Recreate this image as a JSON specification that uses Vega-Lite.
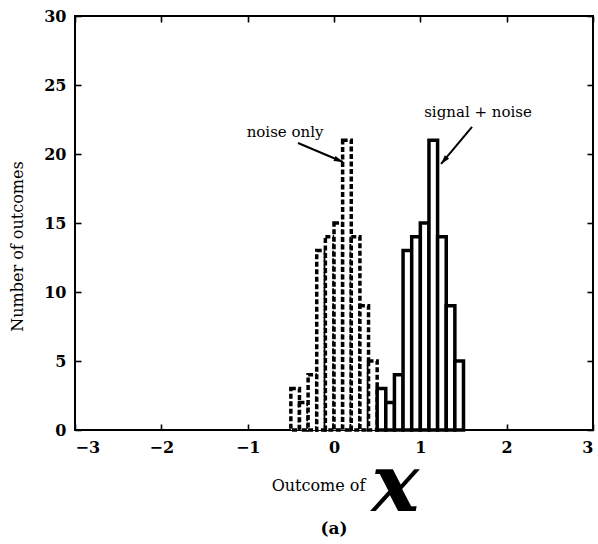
{
  "$schema": "https://vega.github.io/schema/vega-lite/v6.json",
  "width": 518,
  "height": 414,
  "autosize": "none",
  "padding": {"left": 75, "top": 16, "right": 5, "bottom": 114},
  "background": "white",
  "title": {"text": "(a)", "orient": "bottom", "font": "DejaVu Serif", "fontSize": 17, "fontWeight": "bold", "color": "black", "offset": -6, "anchor": "middle"},
  "config": {
    "view": {"stroke": "black", "strokeWidth": 2},
    "axis": {
      "domain": false, "grid": false, "offset": -6,
      "tickColor": "black", "tickSize": 6, "tickWidth": 1.6,
      "labelFont": "DejaVu Serif", "labelFontWeight": "bold", "labelFontSize": 16, "labelColor": "black",
      "titleFont": "DejaVu Serif", "titleFontWeight": "normal", "titleFontSize": 16, "titleColor": "black"
    }
  },
  "datasets": {
    "bars": [
      {"series": "noise only", "x0": -0.5, "x1": -0.4, "count": 3},
      {"series": "noise only", "x0": -0.4, "x1": -0.3, "count": 2},
      {"series": "noise only", "x0": -0.3, "x1": -0.2, "count": 4},
      {"series": "noise only", "x0": -0.2, "x1": -0.1, "count": 13},
      {"series": "noise only", "x0": -0.1, "x1": 0.0, "count": 14},
      {"series": "noise only", "x0": 0.0, "x1": 0.1, "count": 15},
      {"series": "noise only", "x0": 0.1, "x1": 0.2, "count": 21},
      {"series": "noise only", "x0": 0.2, "x1": 0.3, "count": 14},
      {"series": "noise only", "x0": 0.3, "x1": 0.4, "count": 9},
      {"series": "noise only", "x0": 0.4, "x1": 0.5, "count": 5},
      {"series": "signal + noise", "x0": 0.5, "x1": 0.6, "count": 3},
      {"series": "signal + noise", "x0": 0.6, "x1": 0.7, "count": 2},
      {"series": "signal + noise", "x0": 0.7, "x1": 0.8, "count": 4},
      {"series": "signal + noise", "x0": 0.8, "x1": 0.9, "count": 13},
      {"series": "signal + noise", "x0": 0.9, "x1": 1.0, "count": 14},
      {"series": "signal + noise", "x0": 1.0, "x1": 1.1, "count": 15},
      {"series": "signal + noise", "x0": 1.1, "x1": 1.2, "count": 21},
      {"series": "signal + noise", "x0": 1.2, "x1": 1.3, "count": 14},
      {"series": "signal + noise", "x0": 1.3, "x1": 1.4, "count": 9},
      {"series": "signal + noise", "x0": 1.4, "x1": 1.5, "count": 5}
    ],
    "labels": [
      {"series": "noise only", "x": -0.567, "y": 21.2},
      {"series": "signal + noise", "x": 1.668, "y": 22.7}
    ],
    "arrows": [
      {"series": "noise only", "xs": -0.417, "ys": 20.8, "xe": 0.104, "ye": 19.42},
      {"series": "signal + noise", "xs": 1.599, "ys": 21.96, "xe": 1.24, "ye": 19.28}
    ],
    "symbol": [
      {"text": "x", "x": 0.71, "y": -5.85}
    ]
  },
  "resolve": {"axis": {"x": "independent", "y": "independent"}},
  "layer": [
    {
      "data": {"name": "bars"},
      "mark": {"type": "bar", "fill": "white", "stroke": "black", "strokeWidth": 3.5},
      "encoding": {
        "x": {"field": "x0", "type": "quantitative",
              "scale": {"domain": [-3, 3], "nice": false, "zero": false},
              "axis": {"orient": "bottom", "values": [-3, -2, -1, 0, 1, 2, 3], "labelPadding": 9,
                       "title": "Outcome of", "titleX": 243, "titleY": 61, "titleBaseline": "middle", "titleAlign": "center"}},
        "x2": {"field": "x1"},
        "y": {"field": "count", "type": "quantitative",
              "scale": {"domain": [0, 30], "nice": false},
              "axis": {"orient": "left", "values": [0, 5, 10, 15, 20, 25, 30], "labelPadding": 9,
                       "title": "Number of outcomes", "titleX": -64, "titleY": 230, "titleAngle": -90,
                       "titleBaseline": "middle", "titleAlign": "center"}},
        "y2": {"datum": 0},
        "strokeDash": {"field": "series", "type": "nominal",
                       "scale": {"domain": ["noise only", "signal + noise"], "range": [[5, 2.5], [1, 0]]},
                       "legend": null}
      }
    },
    {
      "data": {"name": "labels"},
      "mark": {"type": "text", "font": "DejaVu Serif", "fontSize": 15, "color": "black", "baseline": "alphabetic", "align": "center"},
      "encoding": {
        "x": {"field": "x", "type": "quantitative", "scale": {"domain": [-3, 3], "nice": false, "zero": false},
              "axis": {"orient": "top", "values": [-3, -2, -1, 0, 1, 2, 3], "labels": false, "title": null}},
        "y": {"field": "y", "type": "quantitative", "scale": {"domain": [0, 30], "nice": false},
              "axis": {"orient": "right", "values": [0, 5, 10, 15, 20, 25, 30], "labels": false, "title": null}},
        "text": {"field": "series"}
      }
    },
    {
      "data": {"name": "arrows"},
      "mark": {"type": "rule", "color": "black", "strokeWidth": 2},
      "encoding": {
        "x": {"field": "xs", "type": "quantitative", "scale": {"domain": [-3, 3], "nice": false, "zero": false}, "axis": null},
        "y": {"field": "ys", "type": "quantitative", "scale": {"domain": [0, 30], "nice": false}, "axis": null},
        "x2": {"field": "xe"},
        "y2": {"field": "ye"}
      }
    },
    {
      "data": {"name": "arrows"},
      "transform": [{"filter": "datum.series == 'noise only'"}],
      "mark": {"type": "point", "shape": "M0,0L-0.45,1.5L0.45,1.5Z", "filled": true, "color": "black", "size": 150, "angle": 112.9, "opacity": 1},
      "encoding": {
        "x": {"field": "xe", "type": "quantitative", "scale": {"domain": [-3, 3], "nice": false, "zero": false}, "axis": null},
        "y": {"field": "ye", "type": "quantitative", "scale": {"domain": [0, 30], "nice": false}, "axis": null}
      }
    },
    {
      "data": {"name": "arrows"},
      "transform": [{"filter": "datum.series == 'signal + noise'"}],
      "mark": {"type": "point", "shape": "M0,0L-0.45,1.5L0.45,1.5Z", "filled": true, "color": "black", "size": 150, "angle": 220, "opacity": 1},
      "encoding": {
        "x": {"field": "xe", "type": "quantitative", "scale": {"domain": [-3, 3], "nice": false, "zero": false}, "axis": null},
        "y": {"field": "ye", "type": "quantitative", "scale": {"domain": [0, 30], "nice": false}, "axis": null}
      }
    },
    {
      "data": {"name": "symbol"},
      "mark": {"type": "text", "font": "DejaVu Serif", "fontSize": 80, "fontWeight": "bold", "fontStyle": "italic", "color": "black", "baseline": "alphabetic", "align": "center"},
      "encoding": {
        "x": {"field": "x", "type": "quantitative", "scale": {"domain": [-3, 3], "nice": false, "zero": false}, "axis": null},
        "y": {"field": "y", "type": "quantitative", "scale": {"domain": [0, 30], "nice": false}, "axis": null},
        "text": {"field": "text"}
      }
    }
  ]
}
